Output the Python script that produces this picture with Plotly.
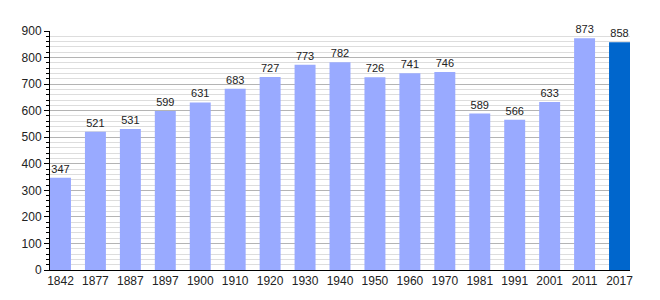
import plotly.graph_objects as go

years = ["1842", "1877", "1887", "1897", "1900", "1910", "1920", "1930", "1940",
         "1950", "1960", "1970", "1981", "1991", "2001", "2011", "2017"]
population = [347, 521, 531, 599, 631, 683, 727, 773, 782, 726, 741, 746, 589, 566, 633, 873, 858]
bar_colors = ["#99aaff"] * (len(years) - 1) + ["#0066cc"]

fig = go.Figure(go.Bar(
    x=list(range(len(years))), y=population,
    marker=dict(color=bar_colors, line=dict(width=0)),
    text=[str(v) for v in population], textposition="outside",
    textfont=dict(family="Liberation Sans, Arial", size=11, color="#222"),
    cliponaxis=False,
))

fig.update_layout(
    width=660, height=300,
    margin=dict(l=50, r=30, t=31, b=30),
    plot_bgcolor="white", paper_bgcolor="white",
    bargap=0.4, showlegend=False,
    font=dict(family="Liberation Sans, Arial", size=12, color="#222"),
)
fig.update_xaxes(
    tickmode="array", tickvals=list(range(len(years))), ticktext=years,
    range=[-0.3, 16.3], showgrid=False, showline=True, linecolor="black",
    linewidth=1, ticks="", zeroline=False,
)
fig.update_yaxes(
    range=[0, 900], dtick=100, showgrid=True, gridcolor="#b4b4b4", gridwidth=1,
    showline=True, linecolor="black", linewidth=1, ticks="outside", ticklen=5,
    tickcolor="black", zeroline=False,
    minor=dict(dtick=20, showgrid=True, gridcolor="#dddddd", ticks="outside",
               ticklen=3, tickcolor="black"),
)

fig.write_html("out.html")
